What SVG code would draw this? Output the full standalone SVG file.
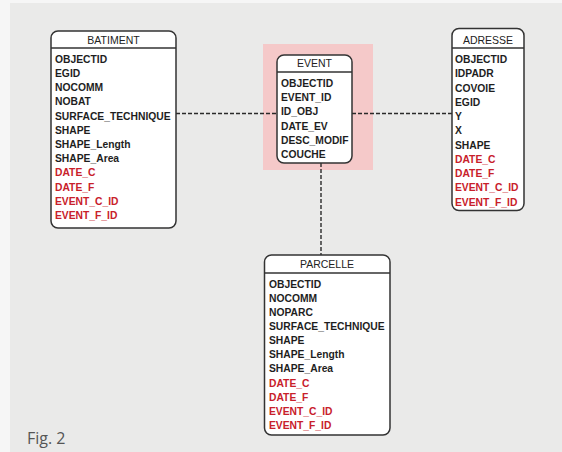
<svg xmlns="http://www.w3.org/2000/svg" width="562" height="452" viewBox="0 0 562 452">
<style>
.box{fill:#ffffff;stroke:#333333;stroke-width:1.5}
.hl{stroke:#333333;stroke-width:1.3}
.hd{font-family:"Liberation Sans",Arial,sans-serif;font-size:10.5px;fill:#222;text-anchor:middle}
.f{font-family:"Liberation Sans",Arial,sans-serif;font-size:10.3px;font-weight:bold;fill:#1e1e1e}
.r{fill:#c8202a}
.conn{stroke:#2a2a2a;stroke-width:1.4;stroke-dasharray:4,2;fill:none}
</style>
<rect x="0" y="0" width="562" height="452" fill="#f6f6f6"/>
<rect x="10" y="3" width="552" height="449" fill="#eaeae9"/>
<rect x="263" y="44" width="110" height="126" fill="#f5c9c9"/>
<g id="connectors">
<line class="conn" x1="176" y1="113.5" x2="277" y2="113.5"/>
<line class="conn" x1="352" y1="113.5" x2="452" y2="113.5"/>
<line class="conn" x1="321" y1="163" x2="321" y2="255"/>
</g>
<g id="batiment">
<rect class="box" x="51" y="31" width="125" height="197" rx="7"/>
<line class="hl" x1="51" y1="48" x2="176" y2="48"/>
<text class="hd" x="113.5" y="43.5">BATIMENT</text>
<text class="f" x="55" y="62.7">OBJECTID</text>
<text class="f" x="55" y="76.9">EGID</text>
<text class="f" x="55" y="91.1">NOCOMM</text>
<text class="f" x="55" y="105.3">NOBAT</text>
<text class="f" x="55" y="119.5">SURFACE_TECHNIQUE</text>
<text class="f" x="55" y="133.7">SHAPE</text>
<text class="f" x="55" y="147.9">SHAPE_Length</text>
<text class="f" x="55" y="162.1">SHAPE_Area</text>
<text class="f r" x="55" y="176.3">DATE_C</text>
<text class="f r" x="55" y="190.5">DATE_F</text>
<text class="f r" x="55" y="204.7">EVENT_C_ID</text>
<text class="f r" x="55" y="218.9">EVENT_F_ID</text>
</g>
<g id="event">
<rect class="box" x="277" y="55" width="75" height="108" rx="7"/>
<line class="hl" x1="277" y1="72" x2="352" y2="72"/>
<text class="hd" x="314.5" y="67">EVENT</text>
<text class="f" x="281" y="86.7">OBJECTID</text>
<text class="f" x="281" y="101">EVENT_ID</text>
<text class="f" x="281" y="115.3">ID_OBJ</text>
<text class="f" x="281" y="129.6">DATE_EV</text>
<text class="f" x="281" y="143.9">DESC_MODIF</text>
<text class="f" x="281" y="158.2">COUCHE</text>
</g>
<g id="adresse">
<rect class="box" x="452" y="28.5" width="72" height="182" rx="7"/>
<line class="hl" x1="452" y1="48" x2="524" y2="48"/>
<text class="hd" x="488" y="44">ADRESSE</text>
<text class="f" x="455" y="63">OBJECTID</text>
<text class="f" x="455" y="77.25">IDPADR</text>
<text class="f" x="455" y="91.5">COVOIE</text>
<text class="f" x="455" y="105.75">EGID</text>
<text class="f" x="455" y="120">Y</text>
<text class="f" x="455" y="134.25">X</text>
<text class="f" x="455" y="148.5">SHAPE</text>
<text class="f r" x="455" y="162.75">DATE_C</text>
<text class="f r" x="455" y="177">DATE_F</text>
<text class="f r" x="455" y="191.25">EVENT_C_ID</text>
<text class="f r" x="455" y="205.5">EVENT_F_ID</text>
</g>
<g id="parcelle">
<rect class="box" x="264.5" y="255" width="125.5" height="180" rx="7"/>
<line class="hl" x1="264.5" y1="273" x2="390" y2="273"/>
<text class="hd" x="327" y="268">PARCELLE</text>
<text class="f" x="269" y="287.5">OBJECTID</text>
<text class="f" x="269" y="301.65">NOCOMM</text>
<text class="f" x="269" y="315.8">NOPARC</text>
<text class="f" x="269" y="329.95">SURFACE_TECHNIQUE</text>
<text class="f" x="269" y="344.1">SHAPE</text>
<text class="f" x="269" y="358.25">SHAPE_Length</text>
<text class="f" x="269" y="372.4">SHAPE_Area</text>
<text class="f r" x="269" y="386.55">DATE_C</text>
<text class="f r" x="269" y="400.7">DATE_F</text>
<text class="f r" x="269" y="414.85">EVENT_C_ID</text>
<text class="f r" x="269" y="429">EVENT_F_ID</text>
</g>
<text x="27" y="444" font-family="'Open Sans','Liberation Sans',sans-serif" font-size="16" fill="#555">Fig. 2</text>
</svg>
